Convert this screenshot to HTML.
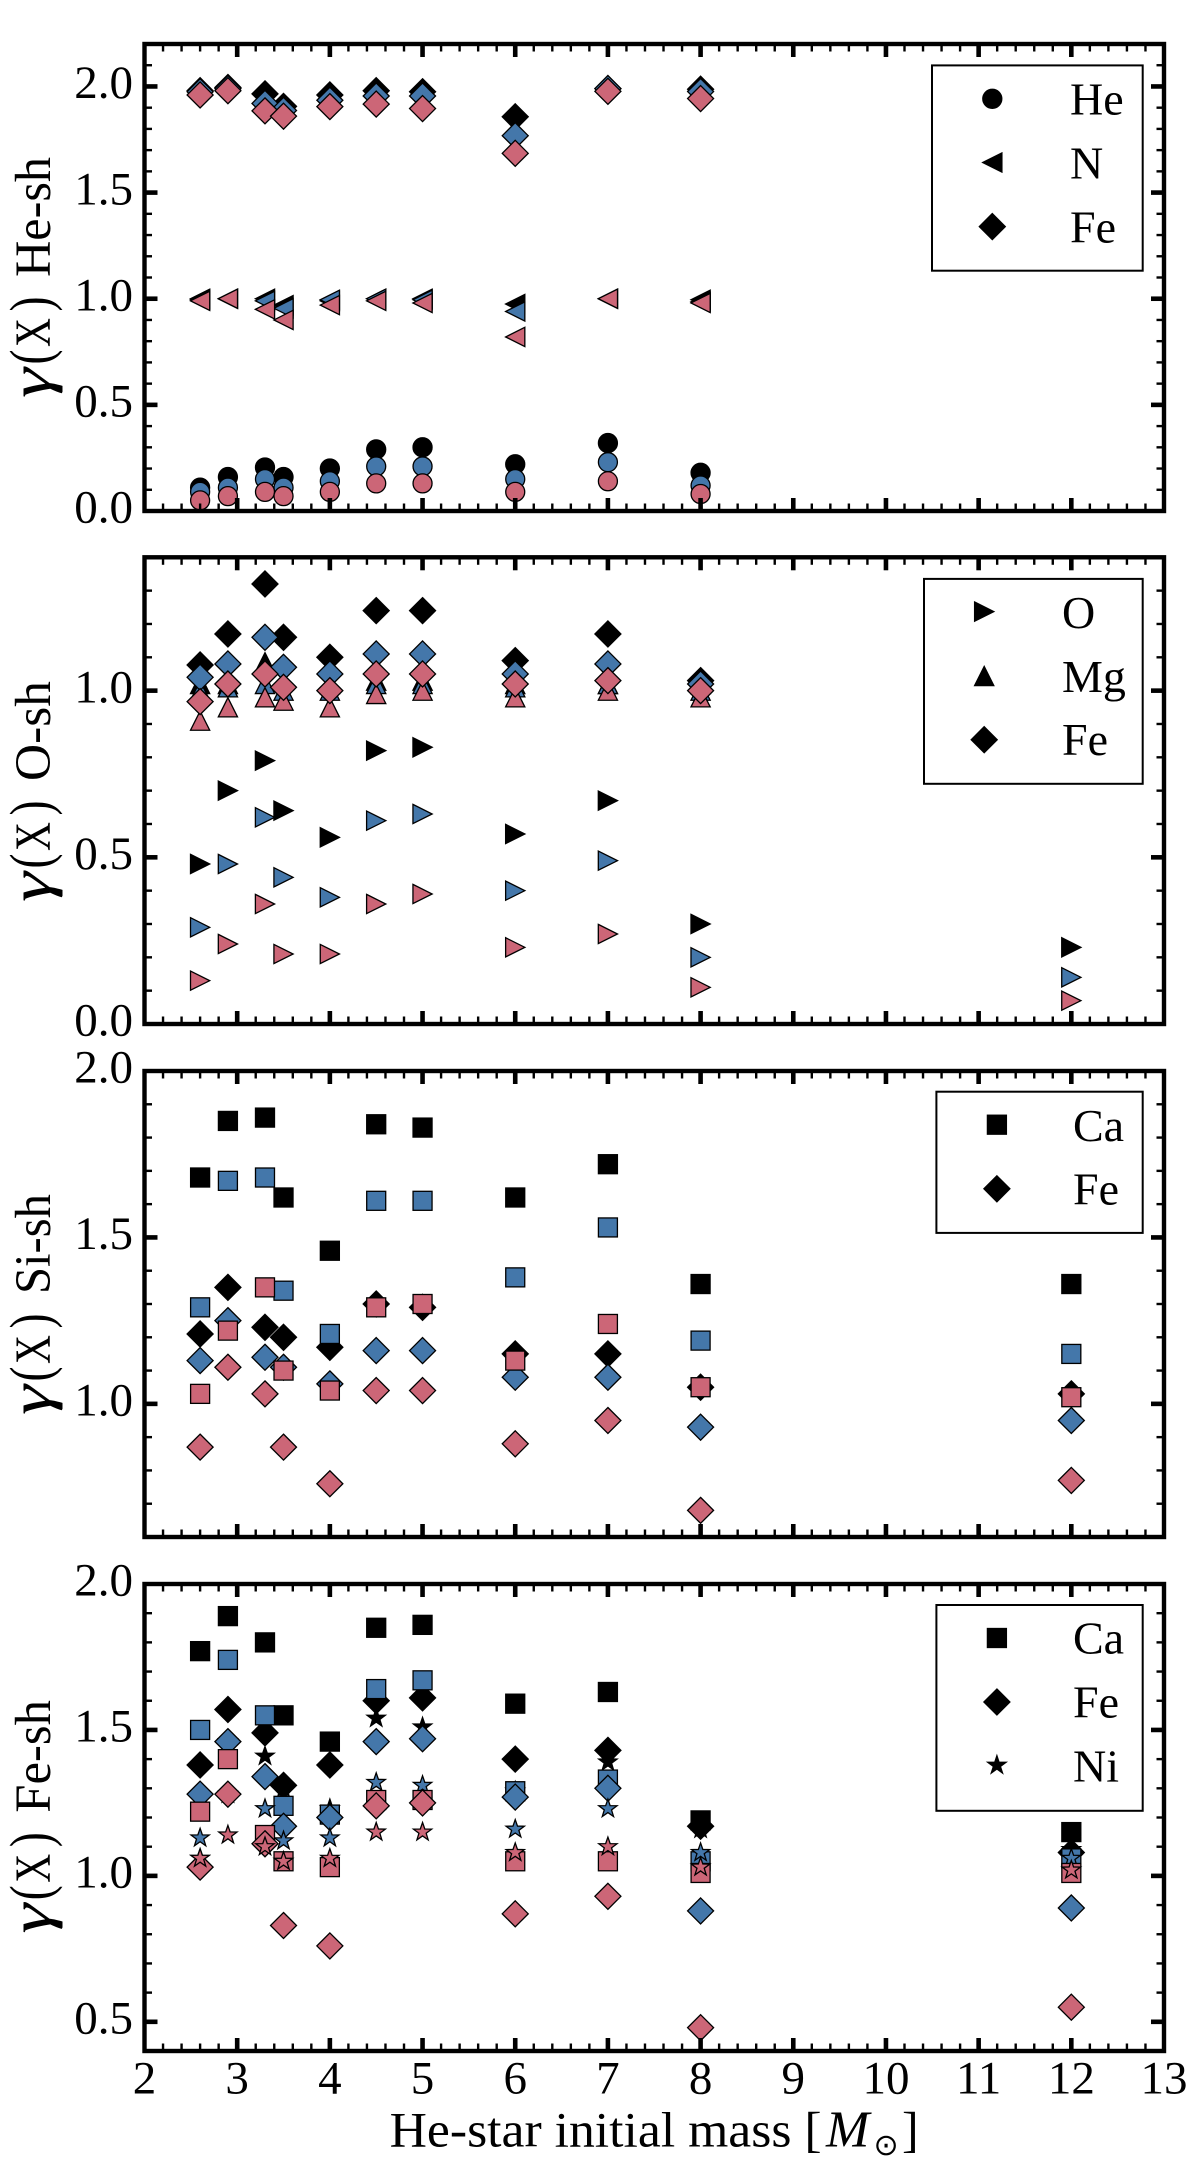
<!DOCTYPE html>
<html lang="en">
<head>
<meta charset="utf-8">
<title>Gamma(X) versus He-star initial mass</title>
<style>
html,body{margin:0;padding:0;background:#fff;}
svg{display:block;}
text{font-family:"Liberation Serif","DejaVu Serif",serif;fill:#000;}
</style>
</head>
<body>
<svg id="chart" xmlns="http://www.w3.org/2000/svg" width="1200" height="2179" viewBox="0 0 1200 2179">
  <rect x="0" y="0" width="1200" height="2179" fill="#fff"/>
  <g id="plots"></g>

  <g transform="translate(50,277.5) rotate(-90)">
    <text font-size="51"><tspan x="-120.5" font-size="58" font-style="italic" textLength="30" lengthAdjust="spacingAndGlyphs">γ</tspan><tspan x="-87" font-size="58" textLength="15" lengthAdjust="spacingAndGlyphs">(</tspan><tspan x="-69.5" textLength="29" lengthAdjust="spacingAndGlyphs">X</tspan><tspan x="-34" font-size="58" textLength="15" lengthAdjust="spacingAndGlyphs">)</tspan> <tspan x="0.5" textLength="120" lengthAdjust="spacingAndGlyphs">He-sh</tspan></text>
  </g>
  <g transform="translate(50,790.5) rotate(-90)">
    <text font-size="51"><tspan x="-111.5" font-size="58" font-style="italic" textLength="30" lengthAdjust="spacingAndGlyphs">γ</tspan><tspan x="-78" font-size="58" textLength="15" lengthAdjust="spacingAndGlyphs">(</tspan><tspan x="-60.5" textLength="29" lengthAdjust="spacingAndGlyphs">X</tspan><tspan x="-25" font-size="58" textLength="15" lengthAdjust="spacingAndGlyphs">)</tspan> <tspan x="9.5" textLength="100" lengthAdjust="spacingAndGlyphs">O-sh</tspan></text>
  </g>
  <g transform="translate(50,1304) rotate(-90)">
    <text font-size="51"><tspan x="-111" font-size="58" font-style="italic" textLength="30" lengthAdjust="spacingAndGlyphs">γ</tspan><tspan x="-77.5" font-size="58" textLength="15" lengthAdjust="spacingAndGlyphs">(</tspan><tspan x="-60" textLength="29" lengthAdjust="spacingAndGlyphs">X</tspan><tspan x="-24.5" font-size="58" textLength="15" lengthAdjust="spacingAndGlyphs">)</tspan> <tspan x="10" textLength="100" lengthAdjust="spacingAndGlyphs">Si-sh</tspan></text>
  </g>
  <g transform="translate(50,1817) rotate(-90)">
    <text font-size="51"><tspan x="-116.7" font-size="58" font-style="italic" textLength="30" lengthAdjust="spacingAndGlyphs">γ</tspan><tspan x="-83.2" font-size="58" textLength="15" lengthAdjust="spacingAndGlyphs">(</tspan><tspan x="-65.7" textLength="29" lengthAdjust="spacingAndGlyphs">X</tspan><tspan x="-30.2" font-size="58" textLength="15" lengthAdjust="spacingAndGlyphs">)</tspan> <tspan x="4.3" textLength="112.7" lengthAdjust="spacingAndGlyphs">Fe-sh</tspan></text>
  </g>

  <text y="2146.7" font-size="50"><tspan x="389.6" textLength="432" lengthAdjust="spacingAndGlyphs">He-star initial mass [</tspan><tspan x="826" font-style="italic" font-size="52">M</tspan><tspan x="873.5" y="2155" font-size="30" font-family="'DejaVu Sans',sans-serif">⊙</tspan><tspan x="902" y="2146.7">]</tspan></text>

  <g>
    <rect x="932" y="65.4" width="210.7" height="205.3" fill="#fff" stroke="#000" stroke-width="2"/>
    <circle cx="992.3" cy="98.8" r="9.5" fill="#000" stroke="#000" stroke-width="1.3"/>
    <text x="1070" y="114.6" font-size="46">He</text>
    <polygon transform="translate(992.3,162.5)" points="9.6,-9.6 9.6,9.6 -9.6,0" fill="#000" stroke="#000" stroke-width="1.3"/>
    <text x="1070" y="178.5" font-size="46">N</text>
    <polygon transform="translate(992.3,226.6)" points="0,-13 13,0 0,13 -13,0" fill="#000" stroke="#000" stroke-width="1.3"/>
    <text x="1070" y="242.5" font-size="46">Fe</text>
  </g>

  <g>
    <rect x="924" y="578.9" width="218.7" height="204.9" fill="#fff" stroke="#000" stroke-width="2"/>
    <polygon transform="translate(984.2,611.6)" points="-9.6,-9.6 9.6,0 -9.6,9.6" fill="#000" stroke="#000" stroke-width="1.3"/>
    <text x="1062" y="627.8" font-size="46">O</text>
    <polygon transform="translate(984.2,676)" points="0,-9.6 9.6,9.6 -9.6,9.6" fill="#000" stroke="#000" stroke-width="1.3"/>
    <text x="1062" y="691.8" font-size="46">Mg</text>
    <polygon transform="translate(984.2,739.7)" points="0,-13 13,0 0,13 -13,0" fill="#000" stroke="#000" stroke-width="1.3"/>
    <text x="1062" y="755.2" font-size="46">Fe</text>
  </g>

  <g>
    <rect x="936.4" y="1091.7" width="206.3" height="141.2" fill="#fff" stroke="#000" stroke-width="2"/>
    <rect x="987.4" y="1115.2" width="19" height="19" fill="#000" stroke="#000" stroke-width="1.3"/>
    <text x="1073" y="1140.9" font-size="46">Ca</text>
    <polygon transform="translate(996.9,1188.8)" points="0,-13 13,0 0,13 -13,0" fill="#000" stroke="#000" stroke-width="1.3"/>
    <text x="1073" y="1204.3" font-size="46">Fe</text>
  </g>

  <g>
    <rect x="936.4" y="1605" width="206.3" height="205.8" fill="#fff" stroke="#000" stroke-width="2"/>
    <rect x="987.4" y="1628.5" width="19" height="19" fill="#000" stroke="#000" stroke-width="1.3"/>
    <text x="1073" y="1653.3" font-size="46">Ca</text>
    <polygon transform="translate(996.9,1702)" points="0,-13 13,0 0,13 -13,0" fill="#000" stroke="#000" stroke-width="1.3"/>
    <text x="1073" y="1717.4" font-size="46">Fe</text>
    <polygon transform="translate(996.9,1765.3)" points="0,-9.6 2.16,-2.97 9.13,-2.97 3.49,1.13 5.64,7.77 0,3.67 -5.64,7.77 -3.49,1.13 -9.13,-2.97 -2.16,-2.97" fill="#000" stroke="#000" stroke-width="1.3"/>
    <text x="1073" y="1781.5" font-size="46">Ni</text>
  </g>
</svg>

<script>
// ----- data -----
const masses = [2.6, 2.9, 3.3, 3.5, 4, 4.5, 5, 6, 7, 8, 12];
const xTickValues = [2, 3, 4, 5, 6, 7, 8, 9, 10, 11, 12, 13];
const xTickLabels = ['2', '3', '4', '5', '6', '7', '8', '9', '10', '11', '12', '13'];

const heShTickValues = [0, 0.5, 1, 1.5, 2];
const heShTickLabels = ['0.0', '0.5', '1.0', '1.5', '2.0'];
const oShTickValues = [0, 0.5, 1];
const oShTickLabels = ['0.0', '0.5', '1.0'];
const siShTickValues = [1, 1.5, 2];
const siShTickLabels = ['1.0', '1.5', '2.0'];
const feShTickValues = [0.5, 1, 1.5, 2];
const feShTickLabels = ['0.5', '1.0', '1.5', '2.0'];

const heShHeBlack = [0.11, 0.16, 0.205, 0.16, 0.20, 0.29, 0.30, 0.22, 0.32, 0.18, null];
const heShHeBlue  = [0.09, 0.11, 0.15, 0.11, 0.14, 0.21, 0.21, 0.15, 0.23, 0.12, null];
const heShHePink  = [0.05, 0.07, 0.09, 0.07, 0.09, 0.13, 0.13, 0.09, 0.14, 0.08, null];
const heShNBlack  = [1.0, 1.0, 1.0, 0.97, 0.99, 1.0, 1.0, 0.975, 1.0, 0.995, null];
const heShNBlue   = [0.995, 1.0, 0.99, 0.955, 0.995, 1.0, 0.995, 0.94, 1.0, 0.985, null];
const heShNPink   = [0.99, 1.0, 0.95, 0.90, 0.97, 0.99, 0.98, 0.82, 1.0, 0.98, null];
const heShFeBlack = [1.98, 1.995, 1.965, 1.906, 1.96, 1.98, 1.975, 1.857, 1.99, 1.987, null];
const heShFeBlue  = [1.975, 1.99, 1.92, 1.887, 1.935, 1.955, 1.955, 1.768, 1.99, 1.976, null];
const heShFePink  = [1.96, 1.98, 1.885, 1.86, 1.905, 1.917, 1.896, 1.685, 1.977, 1.943, null];

const oShOBlack  = [0.48, 0.70, 0.79, 0.64, 0.56, 0.82, 0.83, 0.57, 0.67, 0.30, 0.23];
const oShOBlue   = [0.29, 0.48, 0.62, 0.44, 0.38, 0.61, 0.63, 0.40, 0.49, 0.20, 0.14];
const oShOPink   = [0.13, 0.24, 0.36, 0.21, 0.21, 0.36, 0.39, 0.23, 0.27, 0.11, 0.07];
const oShMgBlack = [1.02, 1.02, 1.085, 1.03, 1.02, 1.03, 1.03, 1.02, 1.02, 1.02, null];
const oShMgBlue  = [1.0, 1.01, 1.02, 1.0, 1.0, 1.02, 1.02, 1.01, 1.02, 1.0, null];
const oShMgPink  = [0.91, 0.95, 0.98, 0.97, 0.95, 0.99, 1.0, 0.98, 1.0, 0.98, null];
const oShFeBlack = [1.077, 1.17, 1.32, 1.16, 1.10, 1.24, 1.24, 1.09, 1.17, 1.03, null];
const oShFeBlue  = [1.04, 1.08, 1.16, 1.07, 1.05, 1.11, 1.11, 1.05, 1.08, 1.02, null];
const oShFePink  = [0.967, 1.02, 1.05, 1.01, 1.0, 1.05, 1.05, 1.02, 1.03, 1.0, null];

const siShCaBlack = [1.68, 1.85, 1.86, 1.62, 1.46, 1.84, 1.83, 1.62, 1.72, 1.36, 1.36];
const siShCaBlue  = [1.29, 1.67, 1.68, 1.34, 1.21, 1.61, 1.61, 1.38, 1.53, 1.19, 1.15];
const siShCaPink  = [1.03, 1.22, 1.35, 1.10, 1.04, 1.29, 1.30, 1.13, 1.24, 1.05, 1.02];
const siShFeBlack = [1.21, 1.35, 1.23, 1.20, 1.17, 1.30, 1.29, 1.15, 1.15, 1.05, 1.03];
const siShFeBlue  = [1.13, 1.25, 1.14, 1.11, 1.06, 1.16, 1.16, 1.08, 1.08, 0.93, 0.95];
const siShFePink  = [0.87, 1.11, 1.03, 0.87, 0.76, 1.04, 1.04, 0.88, 0.95, 0.68, 0.77];

const feShCaBlack = [1.77, 1.89, 1.80, 1.55, 1.46, 1.85, 1.86, 1.59, 1.63, 1.19, 1.15];
const feShCaBlue  = [1.50, 1.74, 1.55, 1.24, 1.21, 1.64, 1.67, 1.29, 1.33, 1.05, 1.06];
const feShCaPink  = [1.22, 1.40, 1.14, 1.05, 1.03, 1.26, 1.26, 1.05, 1.05, 1.01, 1.01];
const feShFeBlack = [1.38, 1.57, 1.49, 1.31, 1.38, 1.60, 1.61, 1.40, 1.43, 1.17, 1.08];
const feShFeBlue  = [1.28, 1.46, 1.34, 1.17, 1.20, 1.46, 1.47, 1.27, 1.30, 0.88, 0.89];
const feShFePink  = [1.03, 1.28, 1.11, 0.83, 0.76, 1.24, 1.25, 0.87, 0.93, 0.48, 0.55];
const feShNiBlack = [1.06, 1.46, 1.41, 1.30, 1.23, 1.54, 1.51, 1.29, 1.39, 1.16, 1.09];
const feShNiBlue  = [1.13, 1.28, 1.23, 1.12, 1.13, 1.32, 1.31, 1.16, 1.23, 1.08, 1.06];
const feShNiPink  = [1.06, 1.14, 1.10, 1.05, 1.06, 1.15, 1.15, 1.08, 1.10, 1.03, 1.02];

// ----- drawing -----
const NS = 'http://www.w3.org/2000/svg';
const plots = document.getElementById('plots');
const BLACK = '#000000', BLUE = '#4477AA', PINK = '#CC6677';
const X_LEFT = 144.5, X_RIGHT = 1164;
const X_MIN = 2, X_MAX = 13;

function xScale(m) {
  return X_LEFT + (m - X_MIN) / (X_MAX - X_MIN) * (X_RIGHT - X_LEFT);
}

function makeYScale(panel) {
  return function (v) {
    return panel.bottom - (v - panel.yMin) / (panel.yMax - panel.yMin) * (panel.bottom - panel.top);
  };
}

function starPoints(R, r) {
  const pts = [];
  for (let i = 0; i < 10; i++) {
    const a = -Math.PI / 2 + i * Math.PI / 5;
    const rad = i % 2 === 0 ? R : r;
    pts.push((rad * Math.cos(a)).toFixed(2) + ',' + (rad * Math.sin(a)).toFixed(2));
  }
  return pts.join(' ');
}

function createMarker(shape) {
  let el;
  if (shape === 'circle') {
    el = document.createElementNS(NS, 'circle');
    el.setAttribute('r', '9.5');
  } else if (shape === 'square') {
    el = document.createElementNS(NS, 'rect');
    el.setAttribute('x', '-9.5');
    el.setAttribute('y', '-9.5');
    el.setAttribute('width', '19');
    el.setAttribute('height', '19');
  } else {
    el = document.createElementNS(NS, 'polygon');
    const shapes = {
      left: '9.6,-9.6 9.6,9.6 -9.6,0',
      right: '-9.6,-9.6 9.6,0 -9.6,9.6',
      up: '0,-9.6 9.6,9.6 -9.6,9.6',
      diamond: '0,-13 13,0 0,13 -13,0',
      star: starPoints(9.6, 3.82)
    };
    el.setAttribute('points', shapes[shape]);
  }
  return el;
}

function addLine(parent, x1, y1, x2, y2, width, name) {
  const line = document.createElementNS(NS, 'line');
  line.setAttribute('x1', x1);
  line.setAttribute('y1', y1);
  line.setAttribute('x2', x2);
  line.setAttribute('y2', y2);
  line.setAttribute('stroke', '#000');
  line.setAttribute('stroke-width', width);
  
  
  parent.appendChild(line);
}

function addLabel(parent, x, y, anchor, label, name) {
  const t = document.createElementNS(NS, 'text');
  t.setAttribute('x', x);
  t.setAttribute('y', y);
  t.setAttribute('text-anchor', anchor);
  t.setAttribute('font-size', '47');
  t.textContent = label;
  
  
  parent.appendChild(t);
}

function drawPanel(panel) {
  const y = makeYScale(panel);
  const g = document.createElementNS(NS, 'g');
  
  
  plots.appendChild(g);

  // marks
  panel.series.forEach(function (s) {
    const sg = document.createElementNS(NS, 'g');
    
    
    g.appendChild(sg);
    s.values.forEach(function (v, i) {
      if (v === null) return;
      const el = createMarker(s.shape);
      el.setAttribute('transform', 'translate(' + xScale(masses[i]).toFixed(2) + ',' + y(v).toFixed(2) + ')');
      el.setAttribute('fill', s.color);
      el.setAttribute('stroke', '#000');
      el.setAttribute('stroke-width', '1.3');
      el.setAttribute('stroke-linejoin', 'miter');
      
      
      sg.appendChild(el);
    });
  });

  // x ticks (every 0.2, major every 1)
  const nx = Math.round((X_MAX - X_MIN) * 5);
  for (let i = 1; i < nx; i++) {
    const major = i % 5 === 0;
    const px = xScale(X_MIN + i / 5);
    const len = major ? 13 : 7.5;
    const w = major ? 4.6 : 2.4;
    addLine(g, px, panel.bottom, px, panel.bottom - len, w, panel.name + '-x-tick-bottom');
    addLine(g, px, panel.top, px, panel.top + len, w, panel.name + '-x-tick-top');
  }

  // y ticks (every 0.1, major every 0.5)
  const ny = Math.round((panel.yMax - panel.yMin) * 10);
  const startTenth = Math.round(panel.yMin * 10);
  for (let i = 0; i <= ny; i++) {
    const tenth = startTenth + i;
    if (i === 0 || i === ny) continue;
    const major = tenth % 5 === 0;
    const py = y(tenth / 10);
    const len = major ? 13 : 7.5;
    const w = major ? 4.6 : 2.4;
    addLine(g, X_LEFT, py, X_LEFT + len, py, w, panel.name + '-y-tick-left');
    addLine(g, X_RIGHT, py, X_RIGHT - len, py, w, panel.name + '-y-tick-right');
  }

  // frame
  const frame = document.createElementNS(NS, 'rect');
  frame.setAttribute('x', X_LEFT);
  frame.setAttribute('y', panel.top);
  frame.setAttribute('width', X_RIGHT - X_LEFT);
  frame.setAttribute('height', panel.bottom - panel.top);
  frame.setAttribute('fill', 'none');
  frame.setAttribute('stroke', '#000');
  frame.setAttribute('stroke-width', '4.4');
  
  
  g.appendChild(frame);

  // y tick labels
  panel.tickValues.forEach(function (v, i) {
    addLabel(g, 133, y(v) + 11.7, 'end', panel.tickLabels[i], panel.name + '-y-tick-label');
  });

  // x tick labels only on the bottom panel
  if (panel.showX) {
    xTickValues.forEach(function (m, i) {
      addLabel(g, xScale(m), panel.bottom + 42.5, 'middle', xTickLabels[i], 'x-tick-label');
    });
  }
}

drawPanel({
  name: 'he-sh', top: 44, bottom: 511, yMin: 0, yMax: 2.2,
  tickValues: heShTickValues, tickLabels: heShTickLabels, showX: false,
  series: [
    { name: 'he-black', shape: 'circle', color: BLACK, values: heShHeBlack },
    { name: 'n-black', shape: 'left', color: BLACK, values: heShNBlack },
    { name: 'fe-black', shape: 'diamond', color: BLACK, values: heShFeBlack },
    { name: 'he-blue', shape: 'circle', color: BLUE, values: heShHeBlue },
    { name: 'n-blue', shape: 'left', color: BLUE, values: heShNBlue },
    { name: 'fe-blue', shape: 'diamond', color: BLUE, values: heShFeBlue },
    { name: 'he-pink', shape: 'circle', color: PINK, values: heShHePink },
    { name: 'n-pink', shape: 'left', color: PINK, values: heShNPink },
    { name: 'fe-pink', shape: 'diamond', color: PINK, values: heShFePink }
  ]
});

drawPanel({
  name: 'o-sh', top: 557.3, bottom: 1024, yMin: 0, yMax: 1.4,
  tickValues: oShTickValues, tickLabels: oShTickLabels, showX: false,
  series: [
    { name: 'o-black', shape: 'right', color: BLACK, values: oShOBlack },
    { name: 'mg-black', shape: 'up', color: BLACK, values: oShMgBlack },
    { name: 'fe-black', shape: 'diamond', color: BLACK, values: oShFeBlack },
    { name: 'o-blue', shape: 'right', color: BLUE, values: oShOBlue },
    { name: 'mg-blue', shape: 'up', color: BLUE, values: oShMgBlue },
    { name: 'fe-blue', shape: 'diamond', color: BLUE, values: oShFeBlue },
    { name: 'o-pink', shape: 'right', color: PINK, values: oShOPink },
    { name: 'mg-pink', shape: 'up', color: PINK, values: oShMgPink },
    { name: 'fe-pink', shape: 'diamond', color: PINK, values: oShFePink }
  ]
});

drawPanel({
  name: 'si-sh', top: 1071, bottom: 1537, yMin: 0.6, yMax: 2.0,
  tickValues: siShTickValues, tickLabels: siShTickLabels, showX: false,
  series: [
    { name: 'ca-black', shape: 'square', color: BLACK, values: siShCaBlack },
    { name: 'fe-black', shape: 'diamond', color: BLACK, values: siShFeBlack },
    { name: 'fe-blue', shape: 'diamond', color: BLUE, values: siShFeBlue },
    { name: 'ca-blue', shape: 'square', color: BLUE, values: siShCaBlue },
    { name: 'fe-pink', shape: 'diamond', color: PINK, values: siShFePink },
    { name: 'ca-pink', shape: 'square', color: PINK, values: siShCaPink }
  ]
});

drawPanel({
  name: 'fe-sh', top: 1584, bottom: 2051, yMin: 0.4, yMax: 2.0,
  tickValues: feShTickValues, tickLabels: feShTickLabels, showX: true,
  series: [
    { name: 'ca-black', shape: 'square', color: BLACK, values: feShCaBlack },
    { name: 'fe-black', shape: 'diamond', color: BLACK, values: feShFeBlack },
    { name: 'ni-black', shape: 'star', color: BLACK, values: feShNiBlack },
    { name: 'ca-blue', shape: 'square', color: BLUE, values: feShCaBlue },
    { name: 'fe-blue', shape: 'diamond', color: BLUE, values: feShFeBlue },
    { name: 'ni-blue', shape: 'star', color: BLUE, values: feShNiBlue },
    { name: 'ca-pink', shape: 'square', color: PINK, values: feShCaPink },
    { name: 'fe-pink', shape: 'diamond', color: PINK, values: feShFePink },
    { name: 'ni-pink', shape: 'star', color: PINK, values: feShNiPink }
  ]
});
</script>
</body>
</html>
